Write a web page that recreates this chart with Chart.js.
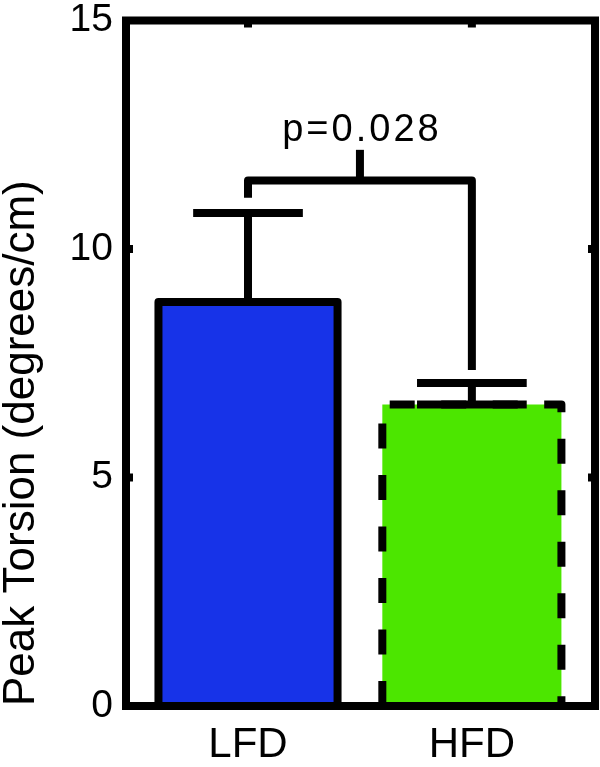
<!DOCTYPE html>
<html>
<head>
<meta charset="utf-8">
<script src="https://cdn.jsdelivr.net/npm/chart.js@4/dist/chart.umd.min.js"></script>
<style>
  html, body { margin: 0; padding: 0; background: #fff; }
  #wrap { width: 600px; height: 767px; position: relative; }
</style>
</head>
<body>
<div id="wrap"><canvas id="c"></canvas></div>
<script>
// ---- data ----
const categories = ['LFD', 'HFD'];
const means = [8.84, 6.6];          // bar heights
const errors = [1.95, 0.47];        // upper error bar
const barColors = ['#1733E8', '#4CE600'];
const dashedEdge = [false, true];   // HFD drawn with dashed outline
const yTicks = [0, 5, 10, 15];
const yTitle = 'Peak Torsion (degrees/cm)';
// significance bracket: leg bottoms, bar level, tick top (y data units)
const bracketLegs = [11.12, 7.35];
const bracketLevel = 11.5;
const bracketTickTop = 12.17;
const pText = 'p=0.028';
const pTextY = 12.36;

const LW = 8;

const framePlugin = {
  id: 'matlabFrame',
  afterDatasetsDraw(chart) {
    const { ctx, chartArea: a, scales: { x, y } } = chart;
    const meta = chart.getDatasetMeta(0);
    ctx.save();
    ctx.strokeStyle = '#000';
    ctx.lineWidth = LW;
    ctx.lineJoin = 'round';
    ctx.lineCap = 'butt';
    meta.data.forEach((bar, i) => {
      const p = bar.getProps(['x', 'y', 'base', 'width'], true);
      const l = p.x - p.width / 2, r = p.x + p.width / 2;
      ctx.beginPath();
      ctx.setLineDash(dashedEdge[i] ? [25, 26.5] : []);
      ctx.moveTo(l, p.base);
      ctx.lineTo(l, p.y);
      ctx.lineTo(r, p.y);
      ctx.lineTo(r, p.base);
      ctx.stroke();
    });
    ctx.setLineDash([]);
    meta.data.forEach((bar, i) => {
      const cx = x.getPixelForValue(i + 1);
      const cl = x.getPixelForValue(i + 1 - 0.245);
      const cr = x.getPixelForValue(i + 1 + 0.245);
      const y0 = y.getPixelForValue(means[i]);
      const y1 = y.getPixelForValue(means[i] + errors[i]);
      ctx.beginPath();
      ctx.moveTo(cx, y0); ctx.lineTo(cx, y1);
      ctx.moveTo(cl, y1); ctx.lineTo(cr, y1);
      ctx.moveTo(cl, y0); ctx.lineTo(cr, y0);
      ctx.stroke();
    });
    const bx1 = x.getPixelForValue(1), bx2 = x.getPixelForValue(2), bxm = x.getPixelForValue(1.5);
    const by = y.getPixelForValue(bracketLevel);
    ctx.beginPath();
    ctx.moveTo(bx1, y.getPixelForValue(bracketLegs[0]));
    ctx.lineTo(bx1, by);
    ctx.lineTo(bx2, by);
    ctx.lineTo(bx2, y.getPixelForValue(bracketLegs[1]));
    ctx.stroke();
    ctx.beginPath();
    ctx.moveTo(bxm, by);
    ctx.lineTo(bxm, y.getPixelForValue(bracketTickTop));
    ctx.stroke();
    ctx.fillStyle = '#000';
    ctx.font = '38px "Liberation Sans", Arial, sans-serif';
    ctx.textAlign = 'center';
    ctx.textBaseline = 'alphabetic';
    try { ctx.letterSpacing = '3px'; } catch (e) {}
    ctx.fillText(pText, bxm + 2, y.getPixelForValue(pTextY));
    try { ctx.letterSpacing = '0px'; } catch (e) {}
    ctx.lineJoin = 'miter';
    ctx.strokeRect(a.left, a.top, a.right - a.left, a.bottom - a.top);
    ctx.beginPath();
    yTicks.slice(1, -1).forEach(v => {
      const py = y.getPixelForValue(v);
      ctx.moveTo(a.left, py); ctx.lineTo(a.left + 7, py);
      ctx.moveTo(a.right, py); ctx.lineTo(a.right - 7, py);
    });
    categories.forEach((c, i) => {
      const px = x.getPixelForValue(i + 1);
      ctx.moveTo(px, a.top); ctx.lineTo(px, a.top + 7);
    });
    ctx.stroke();
    ctx.restore();
  }
};

function zeroPad(s) { s.paddingTop = 0; s.paddingBottom = 0; s.paddingLeft = 0; s.paddingRight = 0; }

new Chart(document.getElementById('c'), {
  type: 'bar',
  data: {
    datasets: [{
      data: categories.map((c, i) => ({ x: i + 1, y: means[i] })),
      backgroundColor: barColors,
      borderWidth: 0,
      barPercentage: 0.8,
      categoryPercentage: 1
    }]
  },
  options: {
    responsive: true,
    maintainAspectRatio: false,
    animation: false,
    layout: { padding: { top: 20.5, right: 5, left: 0, bottom: 0 } },
    plugins: { legend: { display: false }, tooltip: { enabled: false } },
    scales: {
      x: {
        type: 'linear',
        offset: false,
        bounds: 'ticks',
        min: 0.455,
        max: 2.55,
        grid: { display: false, drawTicks: false },
        border: { display: false },
        afterBuildTicks(s) { s.ticks = categories.map((c, i) => ({ value: i + 1 })); },
        afterFit(s) { s.height = 61; zeroPad(s); },
        ticks: {
          color: '#000',
          padding: 14,
          maxRotation: 0,
          autoSkip: false,
          font: { family: '"Liberation Sans", Arial, sans-serif', size: 42 },
          callback: (v) => categories[v - 1] ?? ''
        }
      },
      y: {
        min: 0,
        max: 15,
        grid: { display: false, drawTicks: false },
        border: { display: false },
        afterBuildTicks(s) { s.ticks = yTicks.map(v => ({ value: v })); },
        afterFit(s) { s.width = 126; zeroPad(s); },
        ticks: {
          color: '#000',
          padding: 13,
          font: { family: '"Liberation Sans", Arial, sans-serif', size: 39 }
        },
        title: {
          display: true,
          text: yTitle,
          color: '#000',
          align: 'start',
          padding: 0,
          font: { family: '"Liberation Sans", Arial, sans-serif', size: 44, lineHeight: 1.0 }
        }
      }
    }
  },
  plugins: [framePlugin]
});
</script>
</body>
</html>
